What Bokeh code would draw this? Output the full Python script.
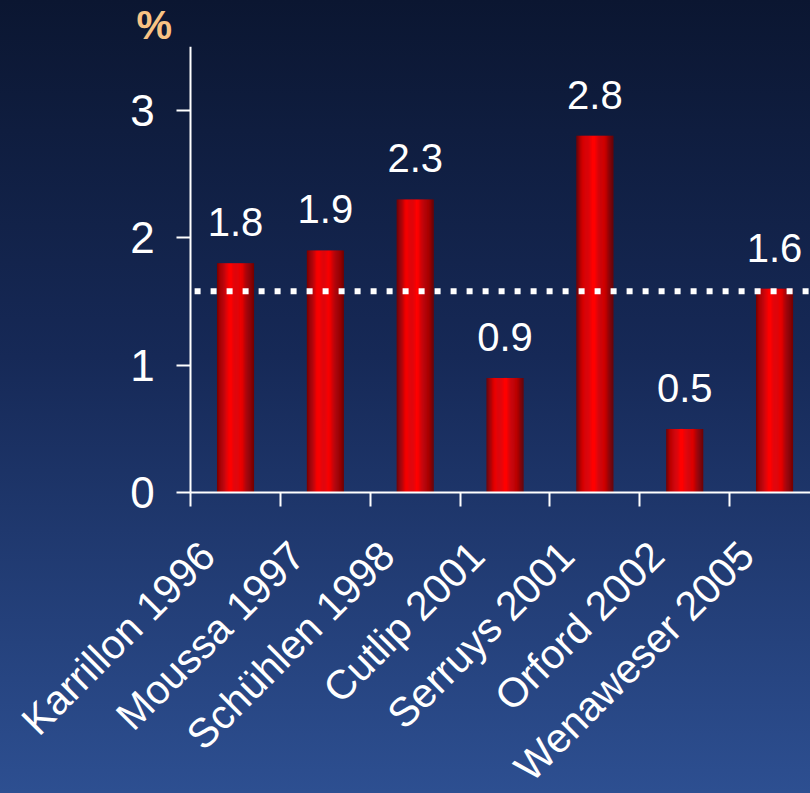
import math

from bokeh.core.properties import value
from bokeh.embed import file_html
from bokeh.models import ColumnDataSource, FixedTicker, LabelSet, Range1d, Title
from bokeh.plotting import figure
from bokeh.resources import INLINE

# Stent thrombosis rate per study (%)
studies = ["Karrillon 1996", "Moussa 1997", "Schühlen 1998", "Cutlip 2001",
           "Serruys 2001", "Orford 2002", "Wenaweser 2005"]
rates = [1.8, 1.9, 2.3, 0.9, 2.8, 0.5, 1.6]
pooled_rate = 1.58
y_ticks = [0, 1, 2, 3]
y_max = 3.5
x_max = 6.9
y_unit = "%"

FONT = "Liberation Sans"
BAR_WIDTH = 0.41
N_STRIPS = 40
LABEL_SHIFT = 0.31   # slanted names end a little left of the bar centre
ROOM_BELOW = 2.36    # room below zero (value units) for the slanted names
ROOM_LEFT = 2.116    # room left of the value axis (category units) for its labels

centers = [i + 0.5 for i in range(len(studies))]
bounds = list(range(len(studies) + 1))
label_pos = [round(c - LABEL_SHIFT, 2) for c in centers]


def shade(t):
    """Red tone across a bar: dark rims, bright core just left of centre."""
    stops = [(0.0, 0.45), (0.1, 0.7), (0.25, 0.95), (0.38, 1.0),
             (0.55, 1.0), (0.72, 0.86), (0.88, 0.64), (1.0, 0.44)]
    for (t0, b0), (t1, b1) in zip(stops[:-1], stops[1:]):
        if t0 <= t <= t1:
            b = b0 + (b1 - b0) * (t - t0) / (t1 - t0)
            break
    return "#%02x0000" % int(round(255 * b))


# the frame fills the canvas below the title so the slanted names and the
# value-axis labels sit inside it; both axes are pinned at zero
p = figure(width=810, height=793,
           x_range=Range1d(-ROOM_LEFT, x_max), y_range=Range1d(-ROOM_BELOW, y_max),
           output_backend="svg", toolbar_location=None,
           min_border_left=0, min_border_right=0,
           min_border_top=45, min_border_bottom=0)
p.background_fill_color = None
p.border_fill_color = None
p.outline_line_color = None
p.grid.visible = False
p.styles = {"background": "linear-gradient(to bottom, #0b1631 0%, #162957 45%, #2d4f91 100%)"}

# unit marker above the value axis
p.title = Title(text=y_unit, align="left", offset=136, standoff=0,
                text_font=FONT, text_font_style="bold", text_font_size="40px",
                text_color="#f8c384")

# cylinder-shaded bars, built from thin vertical strips
strip_w = BAR_WIDTH / N_STRIPS
sx, stop, scol = [], [], []
for c, r in zip(centers, rates):
    for k in range(N_STRIPS):
        t = (k + 0.5) / N_STRIPS
        sx.append(c - BAR_WIDTH / 2 + (k + 0.5) * strip_w)
        stop.append(r)
        scol.append(shade(t))
strips = ColumnDataSource(dict(x=sx, top=stop, color=scol))
p.vbar(x="x", top="top", bottom=0, width=strip_w * 1.3, source=strips,
       fill_color="color", line_color=None)

# pooled rate reference line, across the plotting area
p.segment(x0=[0], x1=[x_max], y0=[pooled_rate], y1=[pooled_rate],
          line_color="white", line_width=6, line_dash="6 10", line_dash_offset=12)

# value labels above bars
vals = ColumnDataSource(dict(x=centers, y=rates, text=["%.1f" % v for v in rates]))
p.add_layout(LabelSet(x="x", y="y", text="text", source=vals, y_offset=27,
                      text_align="center", text_baseline="alphabetic",
                      text_font=value(FONT), text_font_size="40px", text_color="white"))

# category axis: slanted names, tick marks between categories
xa = p.xaxis[0]
xa.fixed_location = 0
xa.bounds = (0, x_max)
xa.ticker = FixedTicker(ticks=label_pos, minor_ticks=bounds)
xa.major_label_overrides = {x: s for x, s in zip(label_pos, studies)}
xa.major_label_orientation = math.pi / 4
xa.major_label_text_font = FONT
xa.major_label_text_font_size = "41px"
xa.major_label_text_color = "white"
xa.major_label_standoff = 42
xa.axis_line_color = "white"
xa.axis_line_width = 2
xa.major_tick_line_color = None
xa.major_tick_out = 0
xa.major_tick_in = 0
xa.minor_tick_line_color = "white"
xa.minor_tick_line_width = 2
xa.minor_tick_out = 14
xa.minor_tick_in = 0

ya = p.yaxis[0]
ya.fixed_location = 0
ya.bounds = (0, y_max)
ya.ticker = FixedTicker(ticks=y_ticks)
ya.axis_line_color = "white"
ya.axis_line_width = 2
ya.major_tick_line_color = "white"
ya.major_tick_line_width = 2
ya.major_tick_out = 14
ya.major_tick_in = 0
ya.minor_tick_line_color = None
ya.major_label_standoff = 22
ya.major_label_text_font = FONT
ya.major_label_text_font_size = "44px"
ya.major_label_text_color = "white"

with open("out.html", "w", encoding="utf-8") as f:
    f.write(file_html(p, INLINE))
